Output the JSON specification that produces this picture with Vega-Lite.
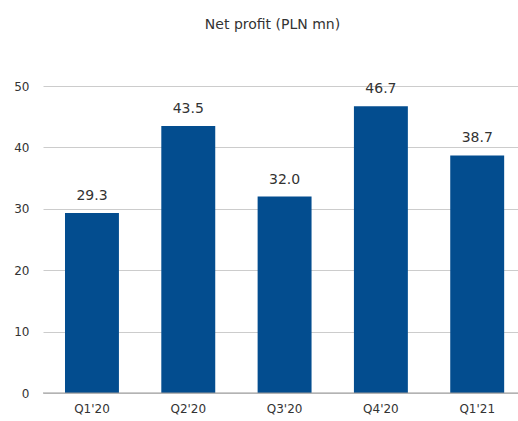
{
  "$schema": "https://vega.github.io/schema/vega-lite/v6.json",
  "autosize": {"type": "none"},
  "padding": {"left": 43, "top": 86, "right": 0, "bottom": 28},
  "width": 475,
  "height": 307,
  "background": "white",
  "title": {
    "text": "Net profit (PLN mn)",
    "font": "DejaVu Sans",
    "fontSize": 14,
    "fontWeight": "normal",
    "color": "#333333",
    "anchor": "middle",
    "dx": -8,
    "offset": 48
  },
  "config": {"view": {"stroke": null}},
  "data": {
    "values": [
      {"q": "Q1'20", "v": 29.3, "lbl": "29.3"},
      {"q": "Q2'20", "v": 43.5, "lbl": "43.5"},
      {"q": "Q3'20", "v": 32.0, "lbl": "32.0"},
      {"q": "Q4'20", "v": 46.7, "lbl": "46.7"},
      {"q": "Q1'21", "v": 38.7, "lbl": "38.7"}
    ]
  },
  "encoding": {
    "x": {
      "field": "q", "type": "nominal", "sort": null,
      "scale": {"paddingInner": 0.44, "paddingOuter": 0.186, "align": 0.614},
      "axis": {
        "title": null, "labelAngle": 0, "domain": false, "ticks": false,
        "labelFont": "DejaVu Sans", "labelFontSize": 12, "labelColor": "#333333",
        "labelPadding": 10
      }
    },
    "y": {
      "field": "v", "type": "quantitative",
      "scale": {"domain": [0, 50], "nice": false},
      "axis": {
        "title": null, "values": [0, 10, 20, 30, 40, 50],
        "domain": false, "ticks": false,
        "labelFont": "DejaVu Sans", "labelFontSize": 12, "labelColor": "#333333",
        "labelPadding": 14, "gridColor": "#cccccc", "gridWidth": 1
      }
    }
  },
  "layer": [
    {"mark": {"type": "bar", "color": "#034d8f"}},
    {
      "mark": {"type": "text", "dy": -10, "font": "DejaVu Sans", "fontSize": 14, "color": "#333333", "baseline": "bottom"},
      "encoding": {"text": {"field": "lbl"}}
    },
    {
      "mark": {"type": "rule", "color": "#999999", "strokeWidth": 1},
      "data": {"values": [{"z": 0}]},
      "encoding": {"y": {"field": "z", "type": "quantitative"}, "x": {"value": 0}, "x2": {"value": 475}}
    }
  ]
}
